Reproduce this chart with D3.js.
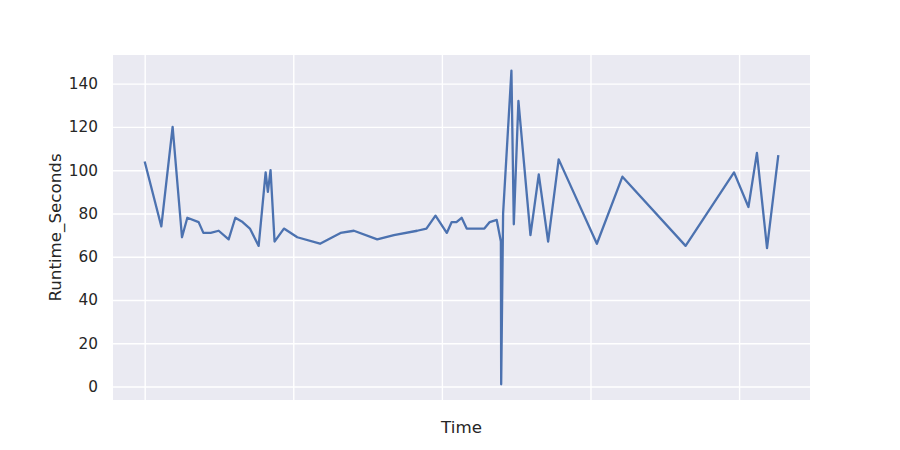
<!DOCTYPE html>
<html>
<head>
  <meta charset="utf-8">
  <script src="https://d3js.org/d3.v7.min.js"></script>
  <style>
    body { margin: 0; background: #fff; }
    text { font-family: "DejaVu Sans", sans-serif; fill: #262626; }
    .grid line { stroke: #fff; stroke-width: 1.4; }
    .grid .domain { stroke: none; }
  </style>
</head>
<body>
<svg id="chart" width="900" height="450"></svg>
<script>
  // Time positions (arbitrary units, gridline every 100) and runtimes
  const timeValues = [0, 11.2, 18.8, 25.1, 28.7, 36.3, 39.5, 44.4, 49.8, 56.5,
    61, 65.9, 70.8, 76.7, 81.4, 82.9, 84.7, 87.4, 93.7, 102.7,
    118, 131.8, 140.8, 156.5, 167.7, 183.4, 189.6, 195.7, 203.3, 206.6,
    209.8, 213.3, 216.7, 228.6, 232.2, 236.9, 239.7, 239.9, 241.2, 246.8,
    248.4, 251.5, 259.6, 265.2, 271.5, 278.6, 304.3, 321.5, 364, 396.6,
    406.3, 412, 418.8, 426.4];
  const runtimeValues = [104, 74, 120, 69, 78, 76, 71, 71, 72, 68,
    78, 76, 73, 65, 99, 90, 100, 67, 73, 69,
    66, 71, 72, 68, 70, 72, 73, 79, 71, 76,
    76, 78, 73, 73, 76, 77, 67, 1, 80, 146,
    75, 132, 70, 98, 67, 105, 66, 97, 65, 99,
    83, 108, 64, 107];
  const yTicks = [0, 20, 40, 60, 80, 100, 120, 140];
  const xGridTicks = [0, 100, 200, 300, 400];

  const svg = d3.select("#chart");
  const margin = { top: 55, right: 90, bottom: 50, left: 113 };
  const width = 900, height = 450;

  const data = timeValues.map((t, i) => ({ t: t, v: runtimeValues[i] }));

  // matplotlib-style 5% padding
  const tExt = d3.extent(timeValues);
  const tPad = (tExt[1] - tExt[0]) * 0.05;
  const vExt = d3.extent(runtimeValues);
  const vPad = (vExt[1] - vExt[0]) * 0.05;

  const x = d3.scaleLinear().domain([tExt[0] - tPad, tExt[1] + tPad])
    .range([margin.left, width - margin.right]);
  const y = d3.scaleLinear().domain([vExt[0] - vPad, vExt[1] + vPad])
    .range([height - margin.bottom, margin.top]);

  // background
  svg.append("rect")
    .attr("x", margin.left).attr("y", margin.top)
    .attr("width", width - margin.left - margin.right)
    .attr("height", height - margin.top - margin.bottom)
    .attr("fill", "#EAEAF2");

  // gridlines
  svg.append("g").attr("class", "grid")
    .attr("transform", `translate(${margin.left},0)`)
    .call(d3.axisLeft(y).tickValues(yTicks).tickFormat("")
      .tickSize(-(width - margin.left - margin.right)));
  svg.append("g").attr("class", "grid")
    .attr("transform", `translate(0,${height - margin.bottom})`)
    .call(d3.axisBottom(x).tickValues(xGridTicks).tickFormat("")
      .tickSize(-(height - margin.top - margin.bottom)));

  // y tick labels
  const yAxis = svg.append("g")
    .attr("transform", `translate(${margin.left - 15},0)`)
    .call(d3.axisLeft(y).tickValues(yTicks).tickSize(0).tickPadding(0));
  yAxis.select(".domain").remove();
  yAxis.selectAll("text").style("font-size", "15.3px").attr("fill", "#262626");

  // line
  const line = d3.line().x(d => x(d.t)).y(d => y(d.v));
  svg.append("path").datum(data)
    .attr("d", line)
    .attr("fill", "none")
    .attr("stroke", "#4C72B0")
    .attr("stroke-width", 2.3)
    .attr("stroke-linejoin", "round");

  // axis labels
  svg.append("text")
    .attr("x", (margin.left + width - margin.right) / 2)
    .attr("y", 433)
    .attr("text-anchor", "middle")
    .style("font-size", "16.7px")
    .text("Time");
  svg.append("text")
    .attr("transform", `translate(61,${(margin.top + height - margin.bottom) / 2}) rotate(-90)`)
    .attr("text-anchor", "middle")
    .style("font-size", "16.7px")
    .text("Runtime_Seconds");
</script>
</body>
</html>
